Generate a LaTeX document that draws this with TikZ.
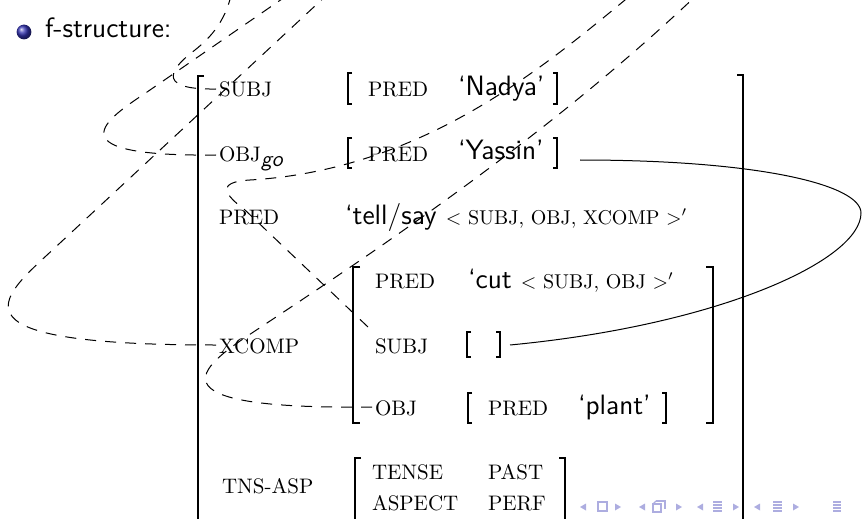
\documentclass[tikz,border=0pt]{standalone}
\usepackage{fontspec}
\usetikzlibrary{calc}
\definecolor{navcol}{RGB}{173,173,224}
\definecolor{ballcol}{rgb}{0.2,0.2,0.7}
\newcommand{\LBr}[5][]{\draw[#1] (#2+#5,#3) -- (#2,#3) -- (#2,#4) -- (#2+#5,#4);}
\newcommand{\RBr}[5][]{\draw[#1] (#2-#5,#3) -- (#2,#3) -- (#2,#4) -- (#2-#5,#4);}
\begin{document}
\begin{tikzpicture}[x=0.5pt,y=-0.5pt,
  attr/.style={font=\fontsize{10.5}{12}\selectfont, inner sep=0pt, outer sep=0pt, anchor=base west},
  val/.style={font=\sffamily\fontsize{14}{16}\selectfont, inner sep=0pt, outer sep=0pt, anchor=base west},
  bigbrk/.style={line width=1.1pt},
  midbrk/.style={line width=0.9pt},
  smallbrk/.style={line width=0.6pt},
  link/.style={line width=0.5pt, dash pattern=on 5.5pt off 4.5pt},
  bind/.style={line width=0.5pt},
  navsym/.style={fill=navcol, draw=none},
  navline/.style={draw=navcol, line width=0.6pt}]
\useasboundingbox (0,0) rectangle (862,519);
\clip (0,0) rectangle (862,519);

% bullet and heading
\shade[ball color=ballcol] (24,32) circle[radius=3.7pt];
\node[val] (fs) at (45,38) {f-structure:};

% outer f-structure
\node[attr] (subj) at (219,97) {SUBJ};
\node[attr] (pred1) at (368,97) {PRED};
\node[val] (nadya) at (458,96) {‘Nadya’};
\node[attr] (objgo) at (219,162) {OBJ\raisebox{-2pt}{\sffamily\itshape\fontsize{11}{12}\selectfont go}};
\node[attr] (pred2) at (368,162) {PRED};
\node[val] (yassin) at (458,160) {‘Yassin’};
\node[attr] (pred3) at (219,224) {PRED};
\node[val] (tell) at (345,224) {‘tell/say {\rmfamily\fontsize{10}{12}\selectfont $<$ SUBJ, OBJ, XCOMP $>'$}};

% embedded XCOMP
\node[attr] (pred4) at (375,288) {PRED};
\node[val] (cut) at (468,288) {‘cut {\rmfamily\fontsize{10}{12}\selectfont $<$ SUBJ, OBJ $>'$}};
\node[attr] (xcomp) at (219,353) {XCOMP};
\node[attr] (subj2) at (375,353) {SUBJ};
\node[attr] (obj2) at (375,415) {OBJ};
\node[attr] (pred5) at (488,415) {PRED};
\node[val] (plant) at (578,414) {‘plant’};

% TNS-ASP
\node[attr] (tns) at (222,493) {TNS-ASP};
\node[attr] (tense) at (372,479) {TENSE};
\node[attr] (past) at (488,479) {PAST};
\node[attr] (aspect) at (372,510) {ASPECT};
\node[attr] (perf) at (488,510) {PERF};

% brackets
\LBr[bigbrk]{198}{76}{540}{6}
\RBr[bigbrk]{743}{75}{540}{6}
\LBr[smallbrk]{348}{73}{104}{4}
\RBr[smallbrk]{557}{73}{104}{4}
\LBr[smallbrk]{348}{138}{168}{4}
\RBr[smallbrk]{557}{138}{168}{4}
\LBr[bigbrk]{353}{267}{423}{7}
\RBr[bigbrk]{713}{267}{423}{7}
\LBr[smallbrk]{467}{332}{357}{4}
\RBr[smallbrk]{500}{332}{357}{4}
\LBr[smallbrk]{468}{393}{423}{4}
\RBr[smallbrk]{666}{393}{423}{4}
\LBr[midbrk]{355}{458}{540}{6}
\RBr[midbrk]{565}{458}{540}{6}

% connector end points
\coordinate (yassinR) at (580,160);
\coordinate (emptyR) at (510,345);
\coordinate (topS) at (233,-15);
\coordinate (topO) at (295,-10);
\coordinate (topX) at (330,-8);
\coordinate (topSub) at (650,-21);
\coordinate (topObj) at (700,-8);

% structure sharing (solid)
\draw[bind] (yassinR) .. controls (760,160) and (861,185) .. (861,213)
  .. controls (861,260) and (720,325) .. (emptyR);

% correspondence links (dashed)
\draw[link] ($(subj.base west)+(-3,-8)$) .. controls (150,90) and (175,65) .. (195,50)
  .. controls (210,38) and (228,20) .. (topS);
\draw[link] ($(objgo.base west)+(-3,-7)$) .. controls (40,157) and (115,114) .. (150,90) -- (topO);
\draw[link] ($(xcomp.base west)+(-3,-8)$) .. controls (-70,345) and (5,295) .. (60,243) -- (topX);
\draw[link] ($(obj2.base west)+(-3,-8)$) .. controls (120,410) and (215,358) .. (267,323)
  .. controls (400,235) and (560,125) .. (topObj);
\draw[link] ($(subj2.base west)+(-7,-26)$) -- (245,210) .. controls (225,195) and (215,182) .. (250,180)
  .. controls (420,170) and (540,70) .. (625,0) -- (topSub);

% navigation symbols
\fill[navsym] (586,503.5) -- (580,507) -- (586,510.5) -- cycle;
\draw[navline] (598,502) rectangle (607,511);
\fill[navsym] (615,503.5) -- (621,507) -- (615,510.5) -- cycle;
\fill[navsym] (645,503.5) -- (639,507) -- (645,510.5) -- cycle;
\draw[navline] (653,504) rectangle (661,512);
\draw[navline] (656,501) -- (665,501) -- (665,509);
\draw[navline] (653,504) -- (656,501);
\fill[navsym] (676,503.5) -- (682,507) -- (676,510.5) -- cycle;
\fill[navsym] (703,503.5) -- (697,507) -- (703,510.5) -- cycle;
\foreach \yy in {502,505,508,511} \draw[navline] (713,\yy) -- (722,\yy);
\fill[navsym] (733,503.5) -- (739,507) -- (733,510.5) -- cycle;
\fill[navsym] (760,503.5) -- (754,507) -- (760,510.5) -- cycle;
\foreach \yy in {502,505,508,511} \draw[navline] (773,\yy) -- (782,\yy);
\fill[navsym] (793,503.5) -- (799,507) -- (793,510.5) -- cycle;
\foreach \yy in {502,505,508,511} \draw[navline] (833,\yy) -- (841,\yy);
\end{tikzpicture}
\end{document}
